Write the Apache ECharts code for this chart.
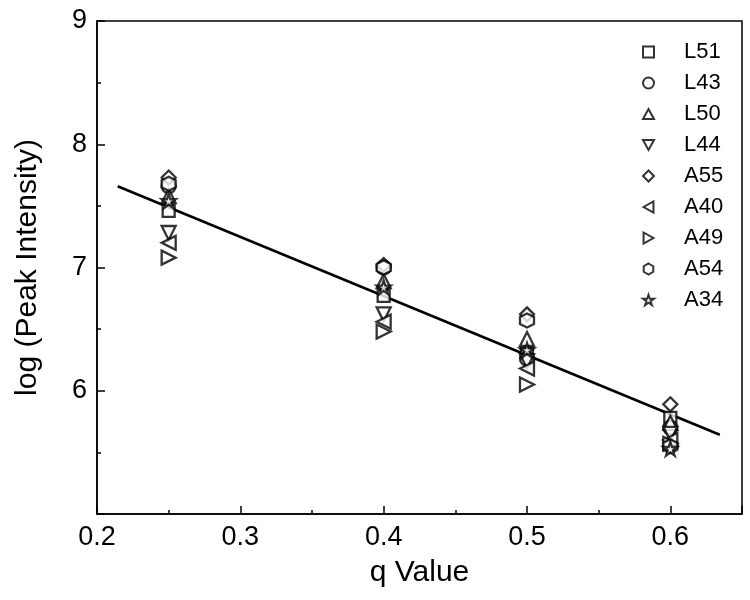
<!DOCTYPE html>
<html>
<head>
<meta charset="utf-8">
<script src="https://cdn.jsdelivr.net/npm/echarts@6/dist/echarts.min.js"></script>
<style>
html, body { margin: 0; padding: 0; background: #fff; }
#chart { width: 750px; height: 600px; }
</style>
</head>
<body>
<div id="chart"></div>
<script>
// q value positions
var qValues = [0.25, 0.4, 0.5, 0.6]

// log(peak intensity) per peptide
var L51 = [7.46, 6.77, 6.30, 5.78]
var L43 = [7.66, 7.00, 6.26, 5.70]
var L50 = [7.58, 6.89, 6.42, 5.74]
var L44 = [7.28, 6.62, 6.24, 5.65]
var A55 = [7.73, 7.02, 6.62, 5.89]
var A40 = [7.20, 6.56, 6.18, 5.60]
var A49 = [7.08, 6.48, 6.05, 5.57]
var A54 = [7.68, 7.00, 6.57, 5.55]
var A34 = [7.54, 6.84, 6.33, 5.53]

// fitted line end points
var fitX = [0.2144, 0.6345]
var fitY = [7.659, 5.643]

var yTicks = [6, 7, 8, 9]

var symbols = {
    L51: 'rect',
    L43: 'circle',
    L50: 'path://M5,0 L10,9 L0,9 Z',
    L44: 'path://M0,0 L10,0 L5,9 Z',
    A55: 'diamond',
    A40: 'path://M0,5 L9,0 L9,10 Z',
    A49: 'path://M0,0 L9,5 L0,10 Z',
    A54: 'path://M5,0 L9.33,2.5 L9.33,7.5 L5,10 L0.67,7.5 L0.67,2.5 Z',
    A34: 'path://M5,0 L6.18,3.6 L10,3.6 L6.9,5.85 L8.1,9.5 L5,7.25 L1.9,9.5 L3.1,5.85 L0,3.6 L3.82,3.6 Z'
}

var groups = [
    ['L51', L51], ['L43', L43], ['L50', L50], ['L44', L44], ['A55', A55],
    ['A40', A40], ['A49', A49], ['A54', A54], ['A34', A34]
]

var font = 'Liberation Sans, Arial, sans-serif'

var series = groups.map(function (g) {
    return {
        name: g[0],
        type: 'scatter',
        symbol: symbols[g[0]],
        symbolSize: g[0] === 'L51' ? 12 : 14,
        itemStyle: {
            color: '#fff',
            borderColor: '#000',
            borderWidth: 2.3
        },
        data: g[1].map(function (v, i) { return [qValues[i], v] })
    }
})

series.push({
    name: 'fit',
    type: 'line',
    showSymbol: false,
    silent: true,
    lineStyle: { color: '#000', width: 2.5 },
    data: fitX.map(function (x, i) { return [x, fitY[i]] }),
    z: 1
})

var option = {
    animation: false,
    backgroundColor: '#fff',
    grid: {
        left: 97,
        right: 8,
        top: 21,
        bottom: 86,
        show: true,
        borderColor: '#000',
        borderWidth: 1.5,
        backgroundColor: 'transparent'
    },
    legend: {
        data: groups.map(function (g) { return g[0] }),
        orient: 'vertical',
        left: 637,
        top: 36,
        itemWidth: 11,
        itemHeight: 11,
        itemGap: 9,
        textStyle: {
            fontFamily: font,
            fontSize: 22,
            color: '#000',
            padding: [0, 0, 0, 25]
        }
    },
    xAxis: {
        type: 'value',
        min: 0.2,
        max: 0.65,
        interval: 0.1,
        name: 'q Value',
        nameLocation: 'middle',
        nameGap: 44,
        nameTextStyle: { fontFamily: font, fontSize: 30, color: '#000' },
        axisLine: { lineStyle: { color: '#000', width: 1.5 } },
        axisTick: { inside: true, length: 8, lineStyle: { color: '#000', width: 1.5 } },
        minorTick: { show: true, splitNumber: 2, length: 4, lineStyle: { color: '#000', width: 1.5 } },
        splitLine: { show: false },
        axisLabel: {
            fontFamily: font,
            fontSize: 27,
            color: '#000',
            margin: 10,
            showMaxLabel: false,
            formatter: function (v) { return v.toFixed(1) }
        }
    },
    yAxis: {
        type: 'value',
        min: 5,
        max: 9,
        interval: 1,
        name: 'log (Peak Intensity)',
        nameLocation: 'middle',
        nameGap: 54,
        nameTextStyle: { fontFamily: font, fontSize: 30, color: '#000' },
        axisLine: { lineStyle: { color: '#000', width: 1.5 } },
        axisTick: { inside: true, length: 8, lineStyle: { color: '#000', width: 1.5 } },
        minorTick: { show: true, splitNumber: 2, length: 4, lineStyle: { color: '#000', width: 1.5 } },
        splitLine: { show: false },
        axisLabel: {
            fontFamily: font,
            fontSize: 27,
            color: '#000',
            margin: 10,
            formatter: function (v) { return yTicks.indexOf(v) >= 0 ? String(v) : '' }
        }
    },
    series: series
}

var myChart = echarts.init(document.getElementById('chart'))
myChart.setOption(option)
</script>
</body>
</html>
